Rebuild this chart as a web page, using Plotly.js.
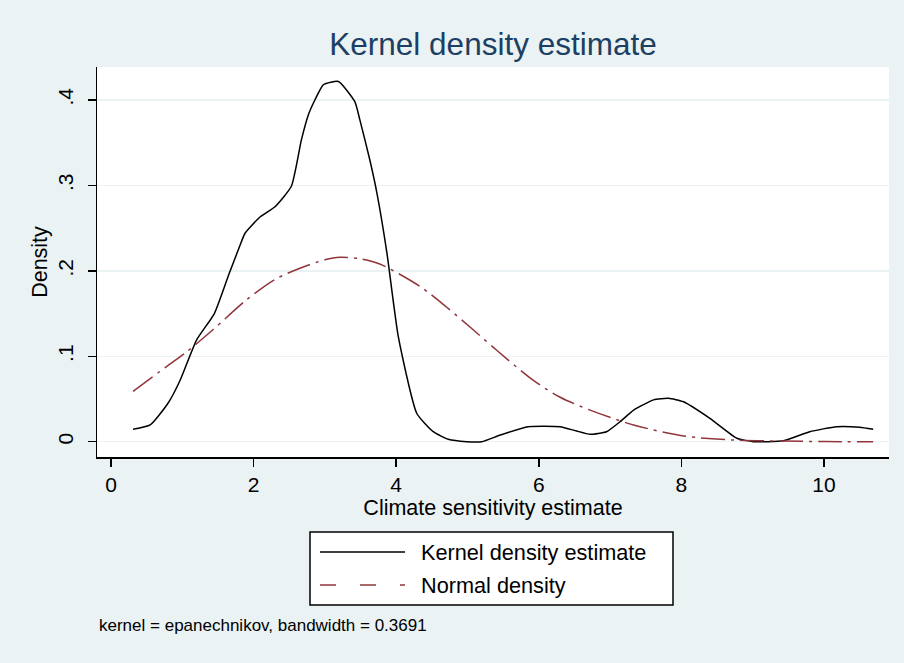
<!DOCTYPE html>
<html>
<head>
<meta charset="utf-8">
<script src="https://cdn.plot.ly/plotly-3.0.1.min.js"></script>
<style>
  html, body { margin: 0; padding: 0; background: #eaf2f3; }
  #chart { width: 904px; height: 663px; }
</style>
</head>
<body>
<div id="chart"></div>
<script>
// Kernel density estimate
const kdeX = [0.31, 0.55, 0.80, 0.97, 1.20, 1.45, 1.65, 1.81, 1.88, 2.09, 2.30, 2.53, 2.67, 2.77, 2.86, 2.98, 3.19, 3.42, 3.49, 3.63, 3.73, 3.87, 4.03, 4.29, 4.52, 4.73, 4.99, 5.20, 5.46, 5.85, 6.30, 6.53, 6.72, 6.95, 7.14, 7.33, 7.61, 7.82, 8.03, 8.40, 8.78, 9.01, 9.43, 9.80, 10.18, 10.50, 10.69];
const kdeY = [0.0145, 0.0196, 0.045, 0.072, 0.119, 0.150, 0.195, 0.230, 0.244, 0.263, 0.275, 0.299, 0.353, 0.383, 0.400, 0.418, 0.4216, 0.398, 0.377, 0.330, 0.291, 0.221, 0.123, 0.033, 0.0117, 0.0028, 0.0, 0.0, 0.0078, 0.0176, 0.0176, 0.0125, 0.0087, 0.0117, 0.0234, 0.037, 0.049, 0.0508, 0.0468, 0.0274, 0.004, 0.0, 0.001, 0.0117, 0.0176, 0.0169, 0.0145];

// Normal density
const normX = [0.31, 0.78, 1.06, 1.43, 1.90, 2.30, 2.65, 3.00, 3.21, 3.50, 3.77, 4.33, 4.70, 5.08, 5.41, 5.92, 6.30, 6.72, 7.33, 8.03, 8.73, 9.40, 10.00, 10.69];
const normY = [0.059, 0.088, 0.105, 0.131, 0.166, 0.190, 0.203, 0.213, 0.216, 0.214, 0.208, 0.182, 0.158, 0.131, 0.107, 0.072, 0.052, 0.037, 0.0196, 0.0067, 0.002, 0.0007, 0.0002, 0.0];

const xTickVals = [0, 2, 4, 6, 8, 10];
const xTickText = ["0", "2", "4", "6", "8", "10"];
const yTickVals = [0, 0.1, 0.2, 0.3, 0.4];
const yTickText = ["0", ".1", ".2", ".3", ".4"];

const seriesNames = ["Kernel density estimate", "Normal density"];
const noteText = "kernel = epanechnikov, bandwidth = 0.3691";

const FONT = "Arial, 'Liberation Sans', sans-serif";
const BG = "#eaf2f3";
const RED = "#90353b";

// pixel -> paper helpers for the manual legend
const L = 97, R = 889, T = 67, B = 457;
const px = v => (v - L) / (R - L);
const py = v => (B - v) / (B - T);

const traces = [
  { x: kdeX, y: kdeY, type: "scatter", mode: "lines", name: seriesNames[0],
    line: { color: "#000000", width: 1.5, shape: "spline", smoothing: 0.5 }, showlegend: false },
  { x: normX, y: normY, type: "scatter", mode: "lines", name: seriesNames[1],
    line: { color: RED, width: 1.5, dash: "24px,6px,3px,6px", shape: "spline", smoothing: 0.8 }, showlegend: false }
];

const layout = {
  width: 904, height: 663,
  paper_bgcolor: BG, plot_bgcolor: "#ffffff",
  margin: { l: L, r: 904 - R, t: T, b: 663 - B, pad: 0 },
  font: { family: FONT, color: "#000000" },
  title: { text: "Kernel density estimate", font: { family: FONT, size: 31.5, color: "#1c3f63" },
           x: 0.5, xref: "paper", y: 1 - 44 / 663, yref: "container", yanchor: "middle" },
  xaxis: {
    range: [-0.196, 10.912], tickmode: "array", tickvals: xTickVals, ticktext: xTickText,
    showgrid: false, zeroline: false, showline: true, linecolor: "#000000", linewidth: 1.5,
    ticks: "outside", ticklen: 8, tickwidth: 1.5, tickcolor: "#000000",
    tickfont: { family: FONT, size: 21, color: "#000000" },
    title: { text: "Climate sensitivity estimate", font: { family: FONT, size: 21.5, color: "#000000" }, standoff: 2 },
    automargin: false
  },
  yaxis: {
    range: [-0.0179, 0.4386], tickmode: "array", tickvals: yTickVals, ticktext: yTickText,
    showgrid: true, gridcolor: BG, gridwidth: 1.5, zeroline: false,
    showline: true, linecolor: "#000000", linewidth: 1.5,
    ticks: "outside", ticklen: 8, tickwidth: 1.5, tickcolor: "#000000", tickangle: -90,
    ticklabelstandoff: 6,
    tickfont: { family: FONT, size: 21, color: "#000000" },
    title: { text: "Density", font: { family: FONT, size: 21.5, color: "#000000" }, standoff: 0 },
    automargin: false
  },
  shapes: [
    { type: "rect", xref: "paper", yref: "paper", x0: px(310), x1: px(673), y0: py(532), y1: py(605),
      line: { color: "#000000", width: 1.5 }, fillcolor: "#ffffff", layer: "above" },
    { type: "line", xref: "paper", yref: "paper", x0: px(320), x1: px(405), y0: py(552), y1: py(552),
      line: { color: "#000000", width: 1.5 } },
    { type: "line", xref: "paper", yref: "paper", x0: px(320), x1: px(405), y0: py(585), y1: py(585),
      line: { color: RED, width: 1.5, dash: "16px,24px,16px,24px,5px,30px" } }
  ],
  annotations: [
    { text: seriesNames[0], xref: "paper", yref: "paper", x: px(419), y: py(552), xanchor: "left", yanchor: "middle",
      showarrow: false, font: { family: FONT, size: 21.7, color: "#000000" } },
    { text: seriesNames[1], xref: "paper", yref: "paper", x: px(419), y: py(585), xanchor: "left", yanchor: "middle",
      showarrow: false, font: { family: FONT, size: 21.7, color: "#000000" } },
    { text: noteText, xref: "paper", yref: "paper", x: px(97), y: py(625), xanchor: "left", yanchor: "middle",
      showarrow: false, font: { family: FONT, size: 17, color: "#000000" } }
  ]
};

Plotly.newPlot("chart", traces, layout, { staticPlot: true, displayModeBar: false });
</script>
</body>
</html>
